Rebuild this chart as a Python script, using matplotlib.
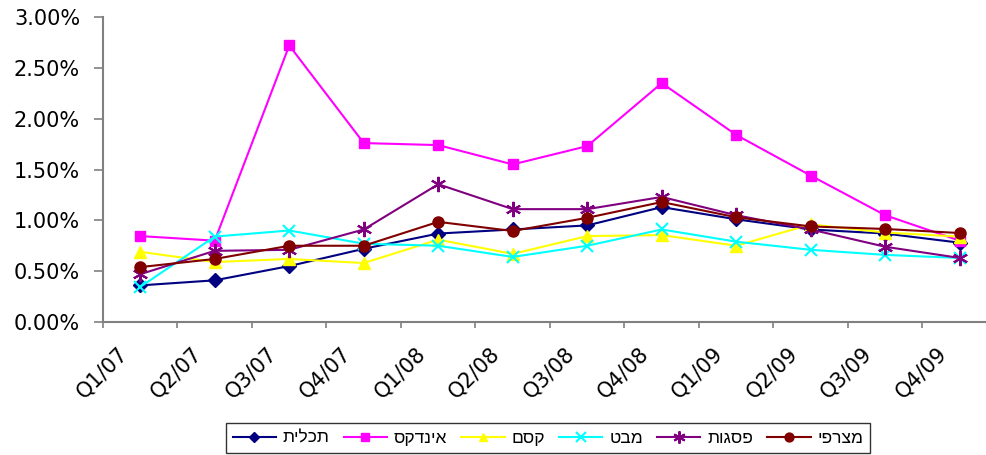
import matplotlib.pyplot as plt
from matplotlib.ticker import FuncFormatter
from matplotlib.transforms import ScaledTranslation

plt.rcParams['font.family'] = ['Liberation Sans', 'DejaVu Sans']

quarters = ["Q1/07", "Q2/07", "Q3/07", "Q4/07", "Q1/08", "Q2/08",
            "Q3/08", "Q4/08", "Q1/09", "Q2/09", "Q3/09", "Q4/09"]

# values in percent
tachlit = [0.36, 0.41, 0.55, 0.72, 0.87, 0.91, 0.95, 1.13, 1.01, 0.91, 0.87, 0.78]
index_ = [0.845, 0.80, 2.72, 1.76, 1.74, 1.55, 1.73, 2.35, 1.84, 1.44, 1.05, 0.80]
kesem = [0.69, 0.59, 0.62, 0.58, 0.81, 0.67, 0.845, 0.855, 0.75, 0.96, 0.88, 0.84]
mabat = [0.345, 0.84, 0.90, 0.77, 0.75, 0.64, 0.75, 0.91, 0.79, 0.71, 0.66, 0.63]
psagot = [0.47, 0.70, 0.71, 0.91, 1.355, 1.11, 1.11, 1.23, 1.05, 0.91, 0.74, 0.63]
mitzrafi = [0.54, 0.62, 0.75, 0.75, 0.985, 0.895, 1.025, 1.18, 1.03, 0.94, 0.915, 0.875]

names = ["תכלית", "אינדקס", "קסם", "מבט", "פסגות", "מצרפי"]
series = [tachlit, index_, kesem, mabat, psagot, mitzrafi]
colors = ["#000080", "#FF00FF", "#FFFF00", "#00FFFF", "#800080", "#800000"]
markers = ["D", "s", "^", "x", (6, 2, 0), "o"]
msizes = [7, 7, 8, 9, 11, 8]

fig = plt.figure(figsize=(9.87, 4.55), dpi=100)
ax = fig.add_axes([103 / 987, 1 - 322 / 455, (997 - 103) / 987, (322 - 17) / 455])

xs = [i + 0.5 for i in range(len(quarters))]
for name, vals, c, m, ms in zip(names, series, colors, markers, msizes):
    # matplotlib draws left to right, so hebrew is reversed for display
    ax.plot(xs, vals, color=c, marker=m, markersize=ms, linewidth=1.5,
            markeredgewidth=1.5 if m in ("x", (6, 2, 0)) else 1,
            label=name[::-1])

ax.set_xlim(0, 12)
ax.set_ylim(0, 3)
ax.set_yticks([0, 0.5, 1.0, 1.5, 2.0, 2.5, 3.0])
ax.yaxis.set_major_formatter(FuncFormatter(lambda v, p: "%.2f%%" % v))
ax.set_xticks(range(len(quarters)))
ax.set_xticklabels(quarters, rotation=45, ha="right", va="top",
                   rotation_mode="anchor")

for s in ("top", "right"):
    ax.spines[s].set_visible(False)
for s in ("left", "bottom"):
    ax.spines[s].set_color("#808080")
    ax.spines[s].set_linewidth(1.5)
ax.tick_params(axis="both", colors="#808080", width=1.2, labelcolor="black")
ax.tick_params(axis="x", length=4.5, pad=3)
ax.tick_params(axis="y", length=6.5, pad=10)

offset = ScaledTranslation(0.14, -0.11, fig.dpi_scale_trans)
for lab in ax.get_xticklabels():
    lab.set_transform(lab.get_transform() + offset)
for lab in ax.get_xticklabels() + ax.get_yticklabels():
    lab.set_family("DejaVu Sans")
    lab.set_fontsize(15)

leg = fig.legend(loc="center", bbox_to_anchor=(548 / 987, 1 - 438 / 455),
                 ncol=6, fontsize=12.5, frameon=True, fancybox=False,
                 edgecolor="black", handlelength=2.5, handletextpad=0.4,
                 columnspacing=0.8, borderpad=0.4, markerscale=0.8)
leg.get_frame().set_linewidth(1)

fig.savefig("out.png", dpi=100)
